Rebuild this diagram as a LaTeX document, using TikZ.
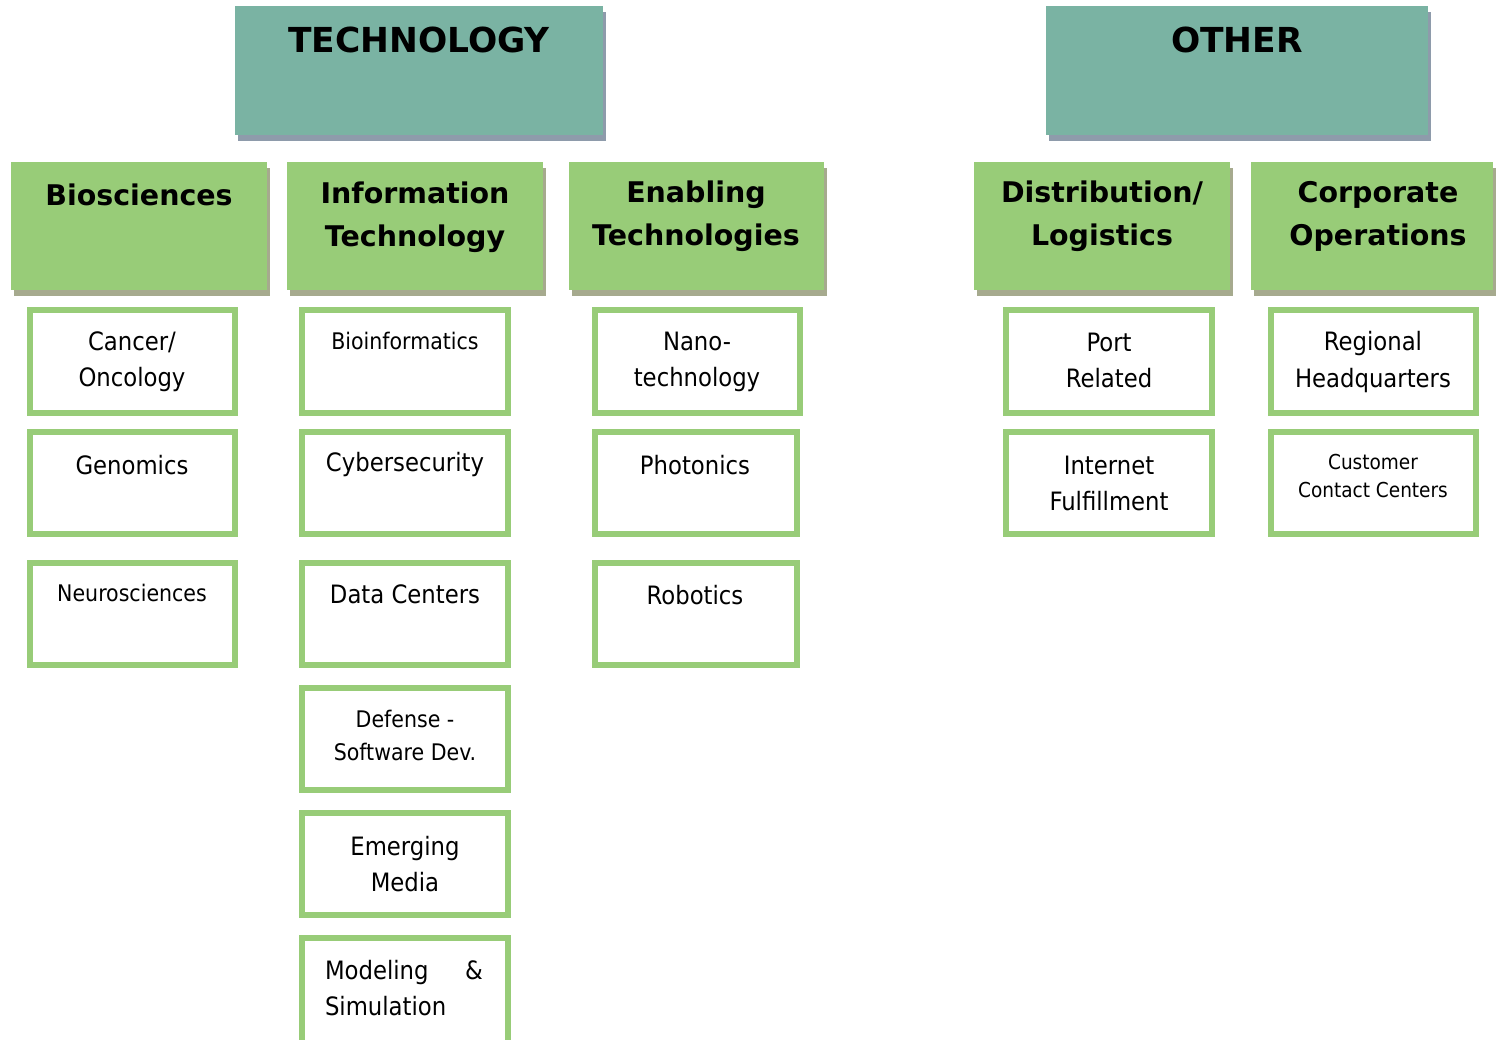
\documentclass[tikz,border=0pt]{standalone}
\usepackage{fontspec}
\setmainfont{DejaVu Sans}
\newfontfamily\condfont{DejaVu Sans Condensed}
\definecolor{techteal}{HTML}{7AB3A3}
\definecolor{tealshadow}{HTML}{8E9BAB}
\definecolor{catgreen}{HTML}{98CC78}
\definecolor{greenshadow}{HTML}{A6AA8E}
\tikzset{
  headtext/.style={font=\bfseries\fontsize{19.6}{24}\selectfont, inner sep=0pt},
  cattext/.style={font=\bfseries\fontsize{16.2}{24.5}\selectfont, align=center, inner sep=0pt},
  itemtext/.style={font=\condfont\fontsize{14.4}{20.5}\selectfont, align=center, inner sep=0pt},
  smalltext/.style={font=\condfont\fontsize{13}{16.5}\selectfont, align=center, inner sep=0pt},
  itembox/.style={draw=catgreen, line width=0.12cm, fill=white}
}
\begin{document}
\begin{tikzpicture}[x=0.02cm, y=-0.02cm]
        \useasboundingbox (0,0) rectangle (1496,1039);

        % top level
        \fill [tealshadow] (238,12) rectangle (606,141);
        \fill [techteal] (235,6) rectangle (603,135);
        \fill [tealshadow] (1049,12) rectangle (1431,141);
        \fill [techteal] (1046,6) rectangle (1428,135);
        \node [headtext] (technology) at (419,40) {TECHNOLOGY};
        \node [headtext] (other) at (1237,40) {OTHER};

        % sectors
        \foreach \l/\r in {11/267, 287/543, 569/824, 974/1230, 1251/1493} {
          \fill [greenshadow] (\l+3,168) rectangle (\r+3,296);
          \fill [catgreen] (\l,162) rectangle (\r,290);
        }
        \node [cattext] (bio) at (139,195) {Biosciences};
        \node [cattext] (infotech) at (415,217) {Information\\Technology};
        \node [cattext] (enabling) at (696,216) {Enabling\\Technologies};
        \node [cattext] (distrib) at (1102,216) {Distribution/\\Logistics};
        \node [cattext] (corporate) at (1378,216) {Corporate\\Operations};

        % biosciences
        \draw [itembox] (30,310) rectangle (235,413);
        \draw [itembox] (30,432) rectangle (235,534);
        \draw [itembox] (30,563) rectangle (235,665);
        \node [itemtext] (cancer) at (132,362) {Cancer/\\Oncology};
        \node [itemtext] (genomics) at (132,465) {Genomics};
        \node [smalltext] (neuro) at (132,593) {Neurosciences};

        % information technology
        \draw [itembox] (302,310) rectangle (508,413);
        \draw [itembox] (302,432) rectangle (508,534);
        \draw [itembox] (302,563) rectangle (508,665);
        \draw [itembox] (302,688) rectangle (508,790);
        \draw [itembox] (302,813) rectangle (508,915);
        \draw [itembox] (302,938) rectangle (508,1060);
        \node [smalltext] (bioinfo) at (405,341) {Bioinformatics};
        \node [itemtext] (cyber) at (405,465) {Cybersecurity};
        \node [itemtext] (datacenters) at (405,594) {Data Centers};
        \node [smalltext, font=\condfont\fontsize{13}{18.8}\selectfont] (defense) at (405,735) {Defense -\\Software Dev.};
        \node [itemtext] (media) at (405,864) {Emerging\\Media};
        \node [itemtext, text width=3.16cm, align=left] (modeling) at (404,988) {Modeling\hfill\&\\Simulation};

        % enabling technologies
        \draw [itembox] (595,310) rectangle (800,413);
        \draw [itembox] (595,432) rectangle (797,534);
        \draw [itembox] (595,563) rectangle (797,665);
        \node [itemtext] (nano) at (697,362) {Nano-\\technology};
        \node [itemtext] (photonics) at (695,465) {Photonics};
        \node [itemtext] (robotics) at (695,595) {Robotics};

        % distribution / logistics
        \draw [itembox] (1006,310) rectangle (1212,413);
        \draw [itembox] (1006,432) rectangle (1212,534);
        \node [itemtext] (port) at (1109,360) {Port\\Related};
        \node [itemtext] (internet) at (1109,483) {Internet\\Fulfillment};

        % corporate operations
        \draw [itembox] (1271,310) rectangle (1476,413);
        \draw [itembox] (1271,432) rectangle (1476,534);
        \node [itemtext] (regional) at (1373,362) {Regional\\Headquarters};
        \node [smalltext, font=\condfont\fontsize{11.7}{16.5}\selectfont] (contact) at (1373,476) {Customer\\Contact Centers};
\end{tikzpicture}
\end{document}
